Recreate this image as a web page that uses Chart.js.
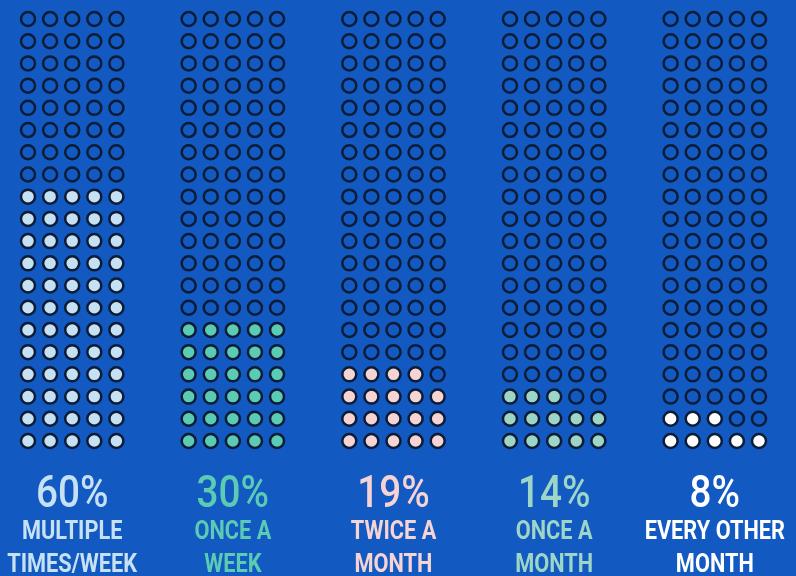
<!DOCTYPE html>
<html>
<head>
<meta charset="utf-8">
<script src="https://cdn.jsdelivr.net/npm/chart.js@4"></script>
<style>
  html, body { margin: 0; padding: 0; background: #1259c1; }
  #wrap { width: 796px; height: 576px; position: relative; }
</style>
</head>
<body>
<div id="wrap"><canvas id="chart"></canvas></div>
<script>
// Datos
const percentLabels = ['60%', '30%', '19%', '14%', '8%'];
const categoryLines = [
    ['MULTIPLE', 'TIMES/WEEK'],
    ['ONCE A', 'WEEK'],
    ['TWICE A', 'MONTH'],
    ['ONCE A', 'MONTH'],
    ['EVERY OTHER', 'MONTH']
];
const filledDots = [60, 30, 19, 13, 8];
const fillColors = ['#c6e1f3', '#5ccbb3', '#f6d4d4', '#9dd6c7', '#ffffff'];

const DOTS_PER_ROW = 5;
const ROWS = 20;
const COL_GAP = 7.27;   // separación entre columnas, en unidades de punto
const OUTLINE = '#0c1c36';

// Construir datasets: un dataset por columna
function buildDatasets() {
    return filledDots.map((count, c) => {
        const points = [];
        const bg = [];
        for (let i = 0; i < DOTS_PER_ROW * ROWS; i++) {
            const row = Math.floor(i / DOTS_PER_ROW);
            const col = i % DOTS_PER_ROW;
            points.push({ x: c * COL_GAP + col, y: row });
            bg.push(i < count ? fillColors[c] : 'rgba(0,0,0,0)');
        }
        return {
            data: points,
            pointBackgroundColor: bg,
            pointBorderColor: OUTLINE,
            pointBorderWidth: 2.5,
            pointRadius: 7,
            pointHoverRadius: 7,
            clip: false
        };
    });
}

// Texto condensado (no hay fuentes estrechas instaladas)
function drawCondensed(ctx, text, x, y, squeeze) {
    ctx.save();
    ctx.translate(x, y);
    ctx.scale(squeeze, 1);
    ctx.fillText(text, 0, 0);
    ctx.restore();
}

// Plugin para los textos bajo cada columna
const labelsPlugin = {
    id: 'columnLabels',
    afterDraw(chart) {
        const ctx = chart.ctx;
        const xs = chart.scales.x;
        ctx.save();
        ctx.textAlign = 'center';
        ctx.textBaseline = 'alphabetic';
        percentLabels.forEach((p, c) => {
            const cx = xs.getPixelForValue(c * COL_GAP + (DOTS_PER_ROW - 1) / 2);
            ctx.fillStyle = fillColors[c];
            ctx.font = '500 45px Roboto, sans-serif';
            drawCondensed(ctx, p, cx, 507, 0.86);
            ctx.font = 'bold 25px Roboto, sans-serif';
            categoryLines[c].forEach((line, k) => {
                drawCondensed(ctx, line, cx, 539 + k * 33, 0.87);
            });
        });
        ctx.restore();
    }
};

function init() {
    const ctx = document.getElementById('chart').getContext('2d');
    new Chart(ctx, {
        type: 'scatter',
        data: { datasets: buildDatasets() },
        options: {
            responsive: true,
            maintainAspectRatio: false,
            animation: false,
            events: [],
            layout: {
                padding: { left: 28, right: 37, top: 19, bottom: 135 }
            },
            plugins: {
                legend: { display: false },
                tooltip: { enabled: false }
            },
            scales: {
                x: {
                    type: 'linear',
                    display: false,
                    min: 0,
                    max: 4 * COL_GAP + DOTS_PER_ROW - 1
                },
                y: {
                    type: 'linear',
                    display: false,
                    min: 0,
                    max: ROWS - 1
                }
            }
        },
        plugins: [labelsPlugin]
    });
}

document.addEventListener('DOMContentLoaded', init);
</script>
</body>
</html>
